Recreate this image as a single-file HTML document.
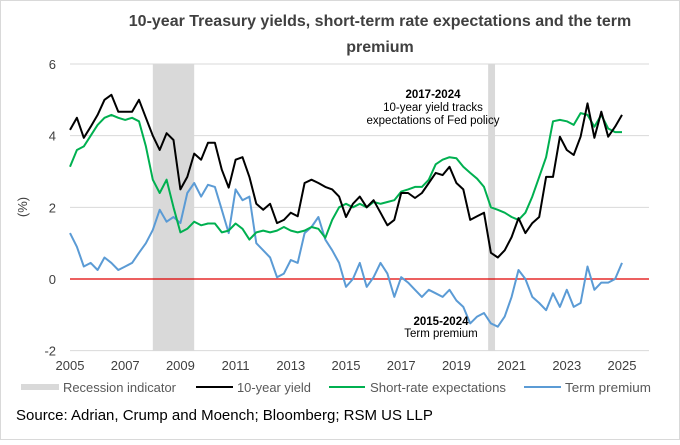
<!DOCTYPE html>
<html><head><meta charset="utf-8"><style>
body{margin:0;background:#fff;}
svg text{font-family:"Liberation Sans",Arial,sans-serif;}
</style></head><body>
<svg id="chart" width="680" height="440" viewBox="0 0 680 440">
<rect x="0.5" y="0.5" width="679" height="439" fill="#fff" stroke="#d9d9d9"/>
<text x="380" y="26" text-anchor="middle" font-size="16" font-weight="bold" fill="#404040">10-year Treasury yields, short-term rate expectations and the term</text>
<text x="380" y="52" text-anchor="middle" font-size="16" font-weight="bold" fill="#404040">premium</text>
<g id="grid"></g>
<g id="rec"></g>
<g id="axes"></g>
<g id="series"></g>
<text transform="translate(27,207) rotate(-90)" text-anchor="middle" font-size="13" fill="#404040">(%)</text>
<g>
<text x="433" y="98" text-anchor="middle" font-size="11.5" font-weight="bold" fill="#000">2017-2024</text>
<text x="433" y="111" text-anchor="middle" font-size="11.5" fill="#000">10-year yield tracks</text>
<text x="433" y="124" text-anchor="middle" font-size="11.5" fill="#000">expectations of Fed policy</text>
</g>
<g>
<text x="441" y="325" text-anchor="middle" font-size="11.5" font-weight="bold" fill="#000">2015-2024</text>
<text x="441" y="337" text-anchor="middle" font-size="11.5" fill="#000">Term premium</text>
</g>
<g>
<rect x="21" y="384" width="38" height="6" fill="#d9d9d9"/>
<text x="63" y="392" font-size="13" fill="#595959" textLength="113" lengthAdjust="spacingAndGlyphs">Recession indicator</text>
<line x1="196" y1="387" x2="233" y2="387" stroke="#000" stroke-width="2"/>
<text x="237" y="392" font-size="13" fill="#595959" textLength="74" lengthAdjust="spacingAndGlyphs">10-year yield</text>
<line x1="329" y1="387" x2="365" y2="387" stroke="#00b050" stroke-width="2"/>
<text x="370" y="392" font-size="13" fill="#595959" textLength="136" lengthAdjust="spacingAndGlyphs">Short-rate expectations</text>
<line x1="524" y1="387" x2="561" y2="387" stroke="#5b9bd5" stroke-width="2"/>
<text x="565" y="392" font-size="13" fill="#595959" textLength="86" lengthAdjust="spacingAndGlyphs">Term premium</text>
</g>
<text x="16" y="420" font-size="15" fill="#000">Source: Adrian, Crump and Moench; Bloomberg; RSM US LLP</text>
</svg>
<script>
const yTicks=[6,4,2,0,-2];
const xTicks=[2005,2007,2009,2011,2013,2015,2017,2019,2021,2023,2025];
const recessions=[[2008.0,2009.5],[2020.15,2020.4]];
const tenYear=[4.16,4.5,3.94,4.25,4.58,5.0,5.14,4.67,4.67,4.67,5.0,4.5,4.0,3.6,4.07,3.88,2.5,2.85,3.5,3.33,3.8,3.8,3.05,2.55,3.33,3.4,2.85,2.1,1.93,2.1,1.56,1.65,1.85,1.75,2.68,2.77,2.68,2.57,2.5,2.3,1.73,2.1,2.3,2.0,2.2,1.85,1.5,1.65,2.4,2.4,2.26,2.4,2.68,2.96,2.9,3.13,2.68,2.5,1.65,1.75,1.85,0.73,0.6,0.8,1.17,1.7,1.28,1.56,1.73,2.85,2.85,3.97,3.6,3.46,3.97,4.9,3.94,4.67,3.97,4.25,4.58];
const shortRate=[3.13,3.6,3.7,4.0,4.3,4.5,4.58,4.5,4.44,4.5,4.4,3.7,2.77,2.4,2.77,2.0,1.3,1.4,1.6,1.5,1.55,1.55,1.3,1.35,1.55,1.4,1.1,1.3,1.35,1.3,1.35,1.45,1.35,1.3,1.35,1.45,1.4,1.15,1.65,2.0,2.1,2.0,2.1,2.0,2.15,2.1,2.15,2.2,2.44,2.5,2.57,2.57,2.77,3.2,3.33,3.4,3.37,3.13,2.96,2.8,2.57,2.0,1.93,1.85,1.73,1.65,1.85,2.3,2.85,3.4,4.4,4.44,4.4,4.3,4.63,4.58,4.25,4.58,4.2,4.1,4.1];
const termPremium=[1.28,0.9,0.35,0.45,0.25,0.6,0.45,0.25,0.35,0.45,0.73,1.0,1.37,1.93,1.6,1.73,1.56,2.4,2.68,2.3,2.63,2.57,1.93,1.28,2.5,2.2,2.3,1.0,0.8,0.6,0.05,0.15,0.53,0.45,1.28,1.45,1.73,1.1,0.8,0.45,-0.22,0,0.45,-0.22,0.05,0.45,0.15,-0.5,0.05,-0.1,-0.3,-0.5,-0.3,-0.4,-0.5,-0.3,-0.6,-0.78,-1.24,-1.05,-0.95,-1.24,-1.33,-1.05,-0.5,0.25,0,-0.5,-0.67,-0.87,-0.4,-0.78,-0.3,-0.78,-0.67,0.35,-0.3,-0.1,-0.1,0,0.45];
const startYear=2005, step=0.25;
const X0=70,X1=649,Y6=64,Y0=279;
function xS(t){return X0+(t-2005)*27.6;}
function yS(v){return Y0-v*(Y0-Y6)/6;}
const NS='http://www.w3.org/2000/svg';
function mk(tag,attrs,parent){const e=document.createElementNS(NS,tag);for(const k in attrs)e.setAttribute(k,attrs[k]);parent.appendChild(e);return e;}
const grid=document.getElementById('grid'),axes=document.getElementById('axes'),rec=document.getElementById('rec'),ser=document.getElementById('series');
yTicks.forEach(v=>{
  if(v!==0){const l=mk('line',{x1:X0,x2:X1,y1:yS(v),y2:yS(v),stroke:'#d9d9d9','stroke-width':1},grid);
  
  }
  const t=mk('text',{x:56,y:yS(v)+5,'text-anchor':'end','font-size':13,fill:'#404040'},axes);
  t.textContent=v;
  
  
});
xTicks.forEach(v=>{
  const t=mk('text',{x:xS(v),y:370,'text-anchor':'middle','font-size':13,fill:'#404040'},axes);
  t.textContent=v;
  
  
});
recessions.forEach(r=>{
  const b=mk('rect',{x:xS(r[0]),y:Y6,width:xS(r[1])-xS(r[0]),height:yS(-2)-Y6,fill:'#d9d9d9'},rec);
  
  
});
const zl=mk('line',{x1:X0,x2:X1,y1:yS(0),y2:yS(0),stroke:'#e00000','stroke-width':1.3},ser);


function line(arr,color,name){
  const pts=arr.map((v,i)=>xS(startYear+i*step).toFixed(1)+','+yS(v).toFixed(1)).join(' ');
  const p=mk('polyline',{points:pts,fill:'none',stroke:color,'stroke-width':2,'stroke-linejoin':'round'},ser);
  
  
}
line(termPremium,'#5b9bd5','term-premium-line');
line(shortRate,'#00b050','short-rate-line');
line(tenYear,'#000000','ten-year-yield-line');
</script>
</body></html>
